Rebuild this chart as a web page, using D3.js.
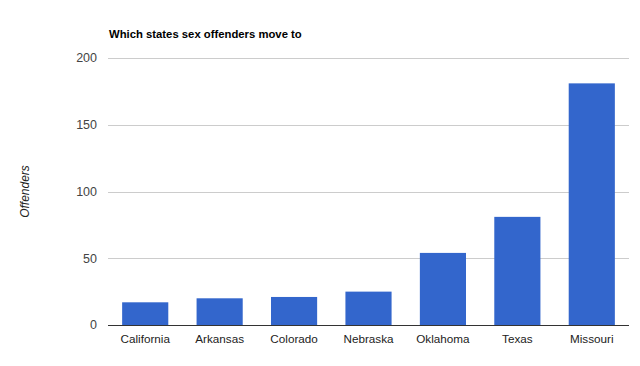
<!DOCTYPE html>
<html><head><meta charset="utf-8">
<script src="https://cdn.jsdelivr.net/npm/d3@7"></script>
<style>body{margin:0;background:#fff;} svg{display:block;font-family:"Liberation Sans",Arial,sans-serif;}</style>
</head><body>
<script>
const categories = ["California","Arkansas","Colorado","Nebraska","Oklahoma","Texas","Missouri"];
const values = [17, 20, 21, 25, 54, 81, 181];
const yTicks = [0, 50, 100, 150, 200];
const title = "Which states sex offenders move to";
const yLabel = "Offenders";

const W = 640, H = 366;
const m = {left:108, right:11, top:58, bottom:41};
const svg = d3.select("body").append("svg").attr("width", W).attr("height", H);

const x = d3.scaleBand().domain(categories).range([m.left, W - m.right]).paddingInner(0.38).paddingOuter(0.19);
const y = d3.scaleLinear().domain([0, 200]).range([H - m.bottom, m.top]);

svg.append("g").selectAll("line").data(yTicks.filter(d => d > 0)).join("line")
  .attr("x1", m.left).attr("x2", W - m.right)
  .attr("y1", d => Math.round(y(d)) + 0.5).attr("y2", d => Math.round(y(d)) + 0.5)
  .attr("stroke", "#cccccc").attr("stroke-width", 1);

svg.append("g").selectAll("text").data(yTicks).join("text")
  .attr("x", m.left - 11).attr("y", d => y(d)).attr("dy", "0.35em")
  .attr("text-anchor", "end").attr("font-size", 12.5).attr("fill", "#444")
  .text(d => d);

svg.append("g").selectAll("rect").data(values).join("rect")
  .attr("x", (d, i) => x(categories[i])).attr("width", x.bandwidth())
  .attr("y", d => y(d)).attr("height", d => y(0) - y(d))
  .attr("fill", "#3366cc");

svg.append("line").attr("x1", m.left).attr("x2", W - m.right)
  .attr("y1", y(0) + 0.5).attr("y2", y(0) + 0.5).attr("stroke", "#333").attr("stroke-width", 1);

svg.append("g").selectAll("text").data(categories).join("text")
  .attr("x", d => x(d) + x.bandwidth() / 2).attr("y", y(0) + 18)
  .attr("text-anchor", "middle").attr("font-size", 11.7).attr("fill", "#222")
  .text(d => d);

svg.append("text").attr("x", m.left + 1).attr("y", 38)
  .attr("font-size", 11.3).attr("font-weight", "bold").attr("fill", "#000").text(title);

svg.append("text").attr("transform", `translate(29,${(y(0)+y(200))/2}) rotate(-90)`)
  .attr("text-anchor", "middle").attr("font-size", 12).attr("font-style", "italic").attr("fill", "#222")
  .text(yLabel);
</script>
</body></html>
